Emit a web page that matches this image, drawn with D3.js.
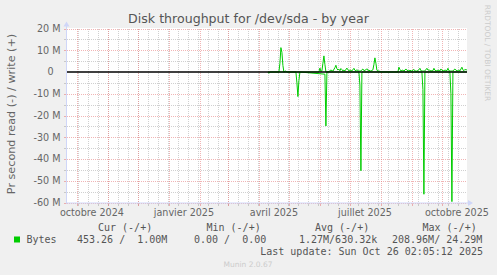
<!DOCTYPE html>
<html>
<head>
<meta charset="utf-8">
<script src="https://cdn.jsdelivr.net/npm/d3@7/dist/d3.min.js"></script>
<style>
  body { margin: 0; background: #f0f0f0; }
  svg { display: block; font-family: "DejaVu Sans", sans-serif; }
  .mono { font-family: "DejaVu Sans Mono", monospace; white-space: pre; }
</style>
</head>
<body>
<svg id="chart"></svg>
<script>
// values in M (per second); read is drawn below zero
const writeDays = [
  '2025-04-10', '2025-04-21', '2025-04-22', '2025-04-23', '2025-04-24', '2025-04-25', '2025-04-26',
  '2025-04-28', '2025-04-29', '2025-05-31', '2025-06-01', '2025-06-02', '2025-06-03', '2025-06-04',
  '2025-06-05', '2025-06-06', '2025-06-07', '2025-06-09', '2025-06-10', '2025-06-12', '2025-06-14',
  '2025-06-16', '2025-06-17', '2025-06-18', '2025-06-19', '2025-06-20', '2025-06-21', '2025-06-22',
  '2025-06-23', '2025-06-24', '2025-06-25', '2025-06-26', '2025-06-28', '2025-06-29', '2025-06-30',
  '2025-07-01', '2025-07-03', '2025-07-05', '2025-07-06', '2025-07-07', '2025-07-08', '2025-07-10',
  '2025-07-12', '2025-07-14', '2025-07-15', '2025-07-17', '2025-07-18', '2025-07-19', '2025-07-20',
  '2025-07-22', '2025-07-24', '2025-07-25', '2025-07-26', '2025-07-27', '2025-07-28', '2025-07-29',
  '2025-07-31', '2025-08-01', '2025-08-18', '2025-08-19', '2025-08-20', '2025-08-21', '2025-08-23',
  '2025-08-24', '2025-08-26', '2025-08-27', '2025-08-29', '2025-08-30', '2025-09-01', '2025-09-03',
  '2025-09-04', '2025-09-06', '2025-09-08', '2025-09-09', '2025-09-10', '2025-09-12', '2025-09-14',
  '2025-09-16', '2025-09-17', '2025-09-19', '2025-09-20', '2025-09-22', '2025-09-23', '2025-09-24',
  '2025-09-26', '2025-09-27', '2025-09-29', '2025-09-30', '2025-10-01', '2025-10-03', '2025-10-04',
  '2025-10-06', '2025-10-07', '2025-10-08', '2025-10-10', '2025-10-12', '2025-10-14', '2025-10-15',
  '2025-10-17', '2025-10-18', '2025-10-19', '2025-10-21', '2025-10-22', '2025-10-23', '2025-10-24',
  '2025-10-25', '2025-10-26'];
const writeValues = [
  0, 0, 4.0, 11.2, 9.0, 3.0, 0,
  0.5, 0, 0, 1.8, 0.3, 0.5, 4.0,
  7.4, 3.5, 0, 0, 0.2, 0.9, 0.4,
  2.0, 3.1, 1.5, 0.9, 1.3, 0.6, 1.6,
  1.1, 0.5, 0.9, 0.5, 1.8, 1.0, 0.6,
  0.9, 0.5, 1.7, 0.8, 0.6, 1.0, 0.4,
  0.5, 1.4, 0.6, 1.0, 1.5, 0.7, 0.8,
  0.4, 1.0, 3.5, 6.5, 4.0, 0.8, 0.5,
  0.3, 0, 0, 2.2, 1.2, 0.5, 0.9,
  0.4, 1.4, 0.8, 0.5, 0.8, 0.4, 1.2,
  0.5, 0.4, 1.0, 1.7, 0.6, 0.4, 0.5,
  1.7, 0.9, 0.8, 0.5, 0.6, 1.7, 0.8,
  0.5, 0.9, 0.5, 1.4, 0.8, 0.5, 0.9,
  0.6, 1.7, 0.6, 0.4, 0.5, 1.4, 0.8,
  0.5, 1.0, 0.5, 2.2, 1.0, 0.6, 1.2,
  1.0, 1.0];

const readDays = [
  '2025-04-10', '2025-04-11', '2025-04-12', '2025-05-08', '2025-05-09', '2025-05-10', '2025-05-11',
  '2025-05-12', '2025-06-06', '2025-06-07', '2025-06-08', '2025-07-10', '2025-07-11', '2025-07-12',
  '2025-07-13', '2025-09-11', '2025-09-12', '2025-09-13', '2025-09-14', '2025-10-09', '2025-10-10',
  '2025-10-11', '2025-10-12', '2025-10-26'];
const readValues = [
  0, 0.6, 0, 0, 5.0, 11.3, 4.0,
  0, 1.0, 24.8, 0, 0, 6.0, 45.4,
  0, 0, 8.0, 56.2, 0, 0, 10.0,
  59.6, 0, 0];

const yMajor = [-60, -50, -40, -30, -20, -10, 0, 10, 20];
const yMinor = [-55, -45, -35, -25, -15, -5, 5, 15];
const monthNames = ['janvier', 'février', 'mars', 'avril', 'mai', 'juin', 'juillet',
  'août', 'septembre', 'octobre', 'novembre', 'décembre'];

const legendHeads = ['Cur (-/+)', 'Min (-/+)', 'Avg (-/+)', 'Max (-/+)'];
const legendCells = ['453.26 /  1.00M', '0.00 /  0.00', '1.27M/630.32k', '208.96M/ 24.29M'];

const W = 497, H = 275;
const plot = {left: 67, right: 467, top: 28.5, bottom: 202.5};
const green = '#00cc00', axisBlue = '#cfd6f8';
const minorColor = 'rgba(150,150,150,0.45)', majorColor = 'rgba(230,120,120,0.55)';

const parse = d3.utcParse('%Y-%m-%d');
const end = new Date(Date.UTC(2025, 9, 26, 2, 5, 12));
const start = d3.utcDay.offset(end, -400);

const x = d3.scaleUtc().domain([start, end]).range([plot.left, plot.right]);
const y = d3.scaleLinear().domain([-60, 20]).range([plot.bottom, plot.top]);

const svg = d3.select('#chart').attr('width', W).attr('height', H);
svg.append('rect').attr('width', W).attr('height', H).attr('fill', '#f0f0f0');
svg.append('rect')
  .attr('x', plot.left).attr('y', plot.top - 0.5)
  .attr('width', plot.right - plot.left).attr('height', plot.bottom - plot.top + 1)
  .attr('fill', '#fff');

// grid
const grid = svg.append('g').attr('shape-rendering', 'crispEdges');

function hLines(values, color) {
  grid.selectAll(null).data(values).enter().append('line')
    .attr('x1', plot.left).attr('x2', plot.right)
    .attr('y1', d => Math.round(y(d)) + 0.5).attr('y2', d => Math.round(y(d)) + 0.5)
    .attr('stroke', color).attr('stroke-dasharray', '1,1');
  grid.selectAll(null).data(values).enter().append('line')
    .attr('x1', plot.left - 3).attr('x2', plot.left)
    .attr('y1', d => Math.round(y(d)) + 0.5).attr('y2', d => Math.round(y(d)) + 0.5)
    .attr('stroke', color);
}

function vLines(dates, color) {
  grid.selectAll(null).data(dates).enter().append('line')
    .attr('x1', d => Math.round(x(d)) + 0.5).attr('x2', d => Math.round(x(d)) + 0.5)
    .attr('y1', plot.top).attr('y2', plot.bottom)
    .attr('stroke', color).attr('stroke-dasharray', '1,1');
  grid.selectAll(null).data(dates).enter().append('line')
    .attr('x1', d => Math.round(x(d)) + 0.5).attr('x2', d => Math.round(x(d)) + 0.5)
    .attr('y1', plot.bottom).attr('y2', plot.bottom + 3)
    .attr('stroke', color);
}

const firstMinor = new Date(Date.UTC(2024, 9, 2));
const minorDays = d3.range(0, 40)
  .map(i => d3.utcDay.offset(firstMinor, i * 10))
  .filter(d => d < end);
const months = d3.utcMonth.range(start, end);

hLines(yMinor, minorColor);
vLines(minorDays, minorColor);
hLines(yMajor.filter(v => v !== 0), majorColor);
vLines(months, majorColor);

// axes
const axes = svg.append('g').attr('fill', axisBlue).attr('stroke', axisBlue);
axes.append('line')
  .attr('x1', plot.left - 0.5).attr('x2', plot.left - 0.5)
  .attr('y1', plot.bottom + 1).attr('y2', plot.top - 4);
axes.append('line')
  .attr('x1', plot.left - 1).attr('x2', plot.right + 3)
  .attr('y1', plot.bottom + 0.5).attr('y2', plot.bottom + 0.5);
axes.append('path').attr('stroke', 'none')
  .attr('d', `M${plot.left - 3.5},${plot.top - 2} L${plot.left - 0.5},${plot.top - 7} L${plot.left + 2.5},${plot.top - 2}Z`);
axes.append('path').attr('stroke', 'none')
  .attr('d', `M${plot.right + 1},${plot.bottom - 2.5} L${plot.right + 6},${plot.bottom + 0.5} L${plot.right + 1},${plot.bottom + 3.5}Z`);

// data
const line = d3.line().x(d => x(d[0])).y(d => y(d[1]));
const writeSeries = writeDays.map((d, i) => [parse(d), writeValues[i]]);
const readSeries = readDays.map((d, i) => [parse(d), -readValues[i]]);

for (const series of [readSeries, writeSeries]) {
  svg.append('path')
    .attr('d', line(series))
    .attr('fill', 'none')
    .attr('stroke', green)
    .attr('stroke-width', 1)
    .attr('stroke-linejoin', 'round');
}

svg.append('line')
  .attr('x1', plot.left).attr('x2', plot.right)
  .attr('y1', y(0)).attr('y2', y(0))
  .attr('stroke', '#000').attr('stroke-width', 1.5);

// y tick labels
svg.append('g').selectAll('text').data(yMajor).enter().append('text')
  .attr('x', d => d === 0 ? 53.5 : 60.5)
  .attr('y', d => y(d))
  .attr('dy', '0.35em')
  .attr('text-anchor', 'end')
  .attr('font-size', 9.6)
  .attr('fill', '#666')
  .text(d => d === 0 ? '0' : `${d} M`);

// x tick labels, centred half a month after the tick
const labelMonths = d3.utcMonth.every(3).range(start, end);
svg.append('g').selectAll('text').data(labelMonths).enter().append('text')
  .attr('x', d => x(d3.utcDay.offset(d, 15)))
  .attr('y', 216)
  .attr('text-anchor', 'middle')
  .attr('font-size', 9.6)
  .attr('fill', '#666')
  .text(d => `${monthNames[d.getUTCMonth()]} ${d.getUTCFullYear()}`);

svg.append('text')
  .attr('x', 248.5).attr('y', 23)
  .attr('text-anchor', 'middle')
  .attr('font-size', 12.6)
  .attr('fill', '#555')
  .text('Disk throughput for /dev/sda - by year');

svg.append('text')
  .attr('transform', `translate(15, ${(33 + 195) / 2}) rotate(-90)`)
  .attr('text-anchor', 'middle')
  .attr('font-size', 11.2)
  .attr('fill', '#666')
  .text('Pr second read (-) / write (+)');

svg.append('text')
  .attr('transform', 'translate(485, 53) rotate(90)')
  .attr('text-anchor', 'middle')
  .attr('font-size', 7.5)
  .attr('fill', '#ccc')
  .text('RRDTOOL / TOBI OETIKER');

// legend
const headX = [98, 206.5, 315, 422.5];
const cellX = [77, 194, 299, 392];
const legend = svg.append('g').attr('class', 'mono').attr('font-size', 10).attr('fill', '#555');
legend.selectAll(null).data(legendHeads).enter().append('text')
  .attr('class', 'mono')
  .attr('x', (d, i) => headX[i]).attr('y', 231)
  .text(d => d);
legend.selectAll(null).data(legendCells).enter().append('text')
  .attr('class', 'mono')
  .attr('x', (d, i) => cellX[i]).attr('y', 243)
  .text(d => d);
legend.append('rect')
  .attr('x', 14).attr('y', 236.5).attr('width', 6).attr('height', 6)
  .attr('fill', green);
legend.append('text').attr('class', 'mono').attr('x', 26.5).attr('y', 243).text('Bytes');
legend.append('text').attr('class', 'mono')
  .attr('x', 483).attr('y', 255).attr('text-anchor', 'end')
  .text('Last update: Sun Oct 26 02:05:12 2025');

svg.append('text')
  .attr('x', 248).attr('y', 267)
  .attr('text-anchor', 'middle')
  .attr('font-size', 7.5)
  .attr('fill', '#ccc')
  .text('Munin 2.0.67');
</script>
</body>
</html>
